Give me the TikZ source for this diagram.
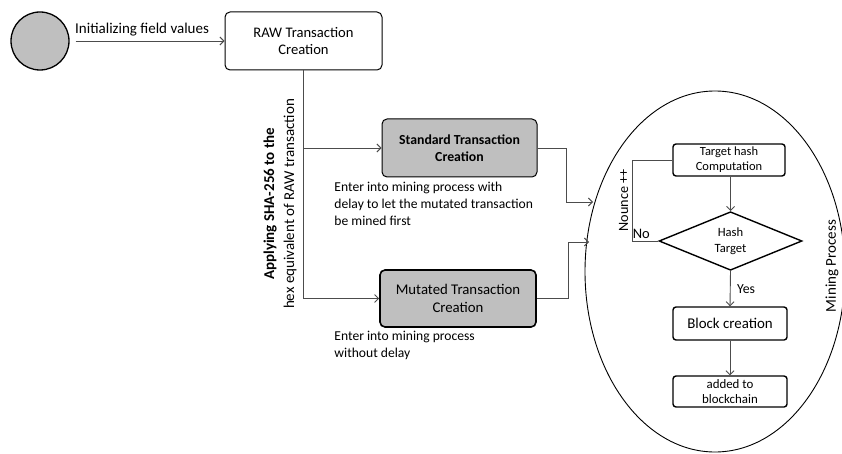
\documentclass[tikz,border=0pt]{standalone}
\usepackage{fontspec}
\setmainfont{Carlito}
\usetikzlibrary{shapes.geometric, arrows.meta}

\begin{document}
\begin{tikzpicture}[
    x=1pt, y=-1pt,
    box/.style={draw, rounded corners=5pt, align=center, inner sep=2pt, line width=1pt},
    smallbox/.style={box, rounded corners=3pt, line width=1.4pt},
    link/.style={draw=black!70, line width=0.9pt, -{Straight Barb[length=4pt, width=8pt]}},
    wire/.style={draw=black!70, line width=0.9pt},
    note/.style={align=left, font=\fontsize{13.6}{17}\selectfont, inner sep=0pt},
    line width=0.9pt
]
  \useasboundingbox (0,0) rectangle (842,454);

  % --- LEFT SECTION ---
  \node[draw, circle, fill=gray!50, line width=1.3pt, minimum size=58pt, inner sep=0pt] (start) at (40,41) {};
  \node[box, minimum width=157pt, minimum height=58pt, font=\fontsize{14.6}{17.5}\selectfont] (raw) at (303.5,41) {RAW Transaction\\Creation};
  \coordinate (split) at (303,148);

  % --- CENTER SECTION ---
  \node[box, fill=gray!50, minimum width=155pt, minimum height=58pt, font=\fontsize{13.8}{17}\selectfont\bfseries] (std) at (459.5,148) {Standard Transaction\\Creation};
  \node[box, fill=gray!50, line width=1.6pt, minimum width=156pt, minimum height=57pt, font=\fontsize{14.8}{18}\selectfont] (mut) at (458,298.5) {Mutated Transaction\\Creation};
  \node[note, anchor=north west] (stdnote) at (334,182) {Enter into mining process with\\delay to let the mutated transaction\\be mined first};
  \node[note, anchor=north west] (mutnote) at (334,331) {Enter into mining process\\without delay};
  \node[rotate=90, align=center, font=\fontsize{15}{20}\selectfont] (sha) at (280,204) {\textbf{Applying SHA-256 to the}\\hex equivalent of RAW transaction};

  % --- RIGHT SECTION ---
  \node[draw, ellipse, minimum width=260pt, minimum height=361pt, inner sep=0pt] (mining) at (715,271.5) {};
  \node[rotate=90, font=\fontsize{15}{17}\selectfont] (minlabel) at (832,266) {Mining Process};
  \coordinate (in1) at (593,202);
  \coordinate (in2) at (589,242);
  \node[smallbox, minimum width=112pt, minimum height=32pt, font=\fontsize{12.5}{15}\selectfont] (tgt) at (729,160) {Target hash\\Computation};
  \node[draw, line width=1.4pt, diamond, minimum width=143pt, minimum height=58pt, inner sep=0pt, align=center, font=\fontsize{12.6}{16}\selectfont] (hash) at (730.5,241) {Hash\\Target};
  \node[smallbox, minimum width=114pt, minimum height=33pt, font=\fontsize{14.9}{17}\selectfont] (block) at (730,323.5) {Block creation};
  \node[smallbox, minimum width=114pt, minimum height=31pt, font=\fontsize{12.9}{14.5}\selectfont] (added) at (730,391.5) {added to\\blockchain};

  % --- DRAWING EDGES ---

  % Left connections
  \draw[link, shorten <=6pt] (start) -- node[above, xshift=-5pt, yshift=1pt, font=\fontsize{15}{17}\selectfont] {Initializing field values} (raw);
  \draw[wire] (raw.south -| split) -- (split);
  \draw[link] (split) -- (std);
  \draw[link] (split) |- (mut);

  % Center connections
  \draw[link] (std.east) -| (566,202) -- (in1);
  \draw[link] (mut.east) -| (568,242) -- (in2);

  % Mining loop
  \draw[link] (hash.north |- tgt.south) -- (hash.north);
  \draw[wire] (hash.west) -- node[above right, pos=1, xshift=-3pt, yshift=-1pt, font=\fontsize{14.5}{16}\selectfont] {No} (632,241) |- node[pos=0.25, above, rotate=90, font=\fontsize{14.2}{16}\selectfont] {Nounce ++} (tgt.west);
  \draw[link] (hash.south) -- node[right, xshift=3pt, font=\fontsize{13.8}{15}\selectfont] {Yes} (block.north);
  \draw[link] (block) -- (added);
\end{tikzpicture}
\end{document}
